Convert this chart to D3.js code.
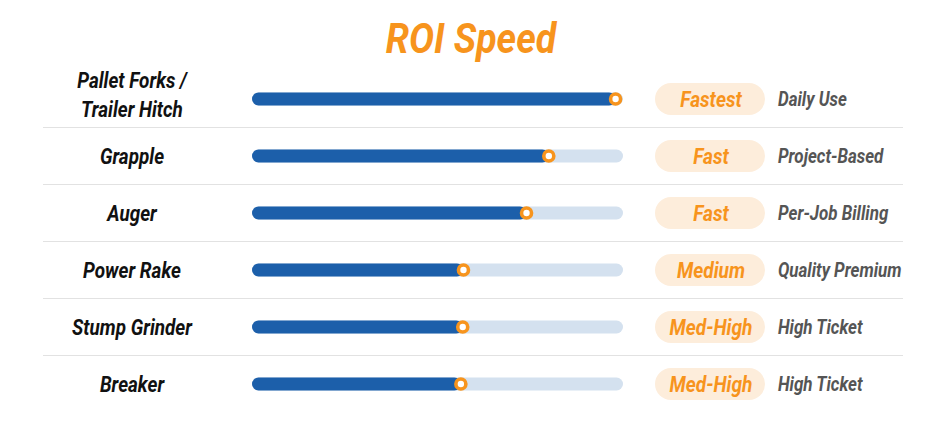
<!DOCTYPE html>
<html>
<head>
<meta charset="utf-8">
<script src="https://cdn.jsdelivr.net/npm/d3@7"></script>
<style>
  html, body { margin: 0; padding: 0; background: #ffffff; }
  svg { display: block; }
  text { font-family: Roboto, "Open Sans", sans-serif; font-style: italic; font-weight: 700; }
</style>
</head>
<body>
<svg id="chart" width="940" height="421"></svg>
<script>
// ---- data ----
const title = "ROI Speed";
const categories = ["Pallet Forks / Trailer Hitch", "Grapple", "Auger", "Power Rake", "Stump Grinder", "Breaker"];
const labelLines = [["Pallet Forks /", "Trailer Hitch"], ["Grapple"], ["Auger"], ["Power Rake"], ["Stump Grinder"], ["Breaker"]];
const roiScores = [98, 80, 74, 57, 56.8, 56.3];
const speedLabels = ["Fastest", "Fast", "Fast", "Medium", "Med-High", "Med-High"];
const notes = ["Daily Use", "Project-Based", "Per-Job Billing", "Quality Premium", "High Ticket", "High Ticket"];

// ---- drawing ----
const svg = d3.select("#chart");
const SX = 0.86; // condensed look

const x = d3.scaleLinear().domain([0, 100]).range([252, 623]);
const y = d3.scalePoint().domain(categories).range([99, 384]);
const step = y.step();

const ORANGE = "#F7941D", BLUE = "#1C5FAA", TRACK = "#D4E1EF", PILL = "#FDEDDB";

// text placed with its baseline at py (alphabetic)
function condensedText(g, px, py, str, opts) {
  const sx = opts.sx == null ? SX : opts.sx;
  const grp = g.append("g").attr("transform", `translate(${px},${py}) scale(${sx},1)`);
  const t = grp.append("text")
    .attr("x", 0).attr("y", 0)
    .attr("text-anchor", opts.anchor || "middle")
    .attr("font-size", opts.size)
    .attr("fill", opts.fill)
    .text(str);
  if (opts.ls) t.attr("letter-spacing", opts.ls);
  return t;
}

// title
condensedText(svg, 471, 53, title, { size: 43, fill: ORANGE, sx: 0.87 });

// separators
const seps = categories.slice(0, -1);
svg.selectAll("line.sep").data(seps).join("line")
  .attr("class", "sep")
  .attr("x1", 43).attr("x2", 903)
  .attr("y1", d => y(d) + step / 2).attr("y2", d => y(d) + step / 2)
  .attr("stroke", "#e2e2e2").attr("stroke-width", 1.2);

const rows = svg.selectAll("g.row").data(categories).join("g")
  .attr("class", "row")
  .attr("transform", d => `translate(0,${y(d)})`);

const BH = 13;
// track
rows.append("rect")
  .attr("x", x(0)).attr("y", -BH / 2)
  .attr("width", x(100) - x(0)).attr("height", BH)
  .attr("rx", BH / 2).attr("fill", TRACK);
// value bar
rows.append("rect")
  .attr("x", x(0)).attr("y", -BH / 2)
  .attr("width", (d, i) => x(roiScores[i]) - x(0)).attr("height", BH)
  .attr("rx", BH / 2).attr("fill", BLUE);
// marker
rows.append("circle")
  .attr("cx", (d, i) => x(roiScores[i])).attr("cy", 0)
  .attr("r", 5).attr("fill", "#ffffff")
  .attr("stroke", ORANGE).attr("stroke-width", 3.6);

// labels
rows.each(function (d, i) {
  const g = d3.select(this);
  const lines = labelLines[i];
  if (lines.length === 1) {
    condensedText(g, 132, 8, lines[0], { size: 22, fill: "#111111" });
  } else {
    condensedText(g, 132, -11, lines[0], { size: 22, fill: "#111111" });
    condensedText(g, 132, 18, lines[1], { size: 22, fill: "#111111" });
  }
  // pill
  g.append("rect")
    .attr("x", 655).attr("y", -16)
    .attr("width", 110).attr("height", 32)
    .attr("rx", 16).attr("fill", PILL);
  condensedText(g, 711, 8, speedLabels[i], { size: 22.5, fill: ORANGE, sx: 0.85 });
  condensedText(g, 778, 7, notes[i], { size: 19.5, fill: "#555555", anchor: "start", sx: 0.87 });
});
</script>
</body>
</html>
